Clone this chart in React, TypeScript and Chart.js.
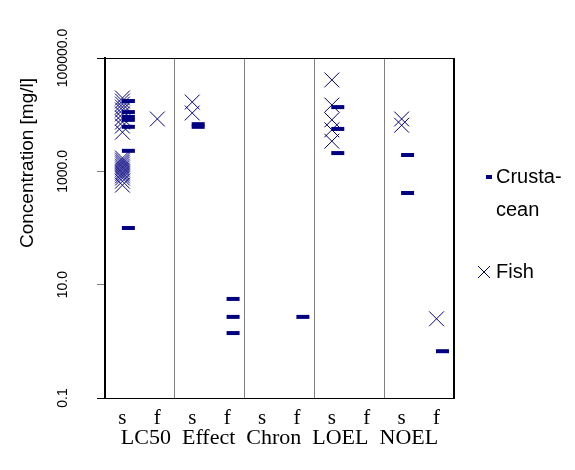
import React, { useEffect, useRef } from "react";
import { Chart, registerables } from "chart.js";

Chart.register(...registerables);

// ---- categories / labels ----
const groups = ["LC50", "Effect", "Chron", "LOEL", "NOEL"];
const subLabels = ["s", "f"];
const yTickValues = [0.1, 10, 1000, 100000];
const yTickLabels = ["0.1", "10.0", "1000.0", "100000.0"];
const yTitle = "Concentration [mg/l]";
const seriesNames = ["Crusta-\ncean", "Fish"];

// ---- Fish values (mg/l) per group, s / f ----
const fishLC50_s = [19700, 17400, 15400, 13600, 12100, 10300, 8700, 7400, 6300, 4900,
  1720, 1580, 1460, 1350, 1240, 1150, 1060, 970, 900, 830, 760, 670, 570];
const fishLC50_f = [8400];
const fishEffect_s = [16700, 10700];
const fishEffect_f: number[] = [];
const fishChron_s: number[] = [];
const fishChron_f: number[] = [];
const fishLOEL_s = [41000, 14800, 8100, 5400, 3400];
const fishLOEL_f: number[] = [];
const fishNOEL_s = [8400, 6500];
const fishNOEL_f = [2.5];

// ---- Crustacean values (mg/l) per group, s / f ----
const crustLC50_s = [17400, 11100, 9100, 8100, 6100, 2300, 100];
const crustLC50_f: number[] = [];
const crustEffect_s = [6800, 6100];
const crustEffect_f = [5.6, 2.7, 1.4];
const crustChron_s: number[] = [];
const crustChron_f = [2.7];
const crustLOEL_s = [13600, 5600, 2100];
const crustLOEL_f: number[] = [];
const crustNOEL_s = [1940, 415];
const crustNOEL_f = [0.67];

const fishCols = [
  [fishLC50_s, fishLC50_f],
  [fishEffect_s, fishEffect_f],
  [fishChron_s, fishChron_f],
  [fishLOEL_s, fishLOEL_f],
  [fishNOEL_s, fishNOEL_f],
];
const crustCols = [
  [crustLC50_s, crustLC50_f],
  [crustEffect_s, crustEffect_f],
  [crustChron_s, crustChron_f],
  [crustLOEL_s, crustLOEL_f],
  [crustNOEL_s, crustNOEL_f],
];

const NAVY = "#000080";
const SANS = "'Liberation Sans', Arial, sans-serif";
const SERIF = "'Liberation Serif', 'Times New Roman', serif";

function toPoints(cols: number[][][], shift: number) {
  return cols.flatMap((pair, gi) =>
    pair.flatMap((vals, si) => vals.map((v) => ({ x: gi * 2 + si + 0.5 + shift, y: v })))
  );
}

const xTickVals: number[] = [];
for (let g = 0; g < groups.length; g++) {
  xTickVals.push(g * 2, g * 2 + 0.5, g * 2 + 1.5);
}
xTickVals.push(groups.length * 2);

const decorPlugin = {
  id: "decor",
  afterDraw(chart: any) {
    const ctx = chart.ctx;
    const ys = chart.scales.y;
    ctx.save();
    // y tick labels (rotated)
    ctx.fillStyle = "#000";
    ctx.font = `14px ${SANS}`;
    ctx.textAlign = "center";
    ctx.textBaseline = "middle";
    yTickValues.forEach((v, i) => {
      const py = ys.getPixelForValue(v);
      ctx.save();
      ctx.translate(63, py);
      ctx.rotate(-Math.PI / 2);
      ctx.fillText(yTickLabels[i], 0, 0);
      ctx.restore();
    });
    // y title
    ctx.save();
    ctx.font = `19px ${SANS}`;
    ctx.translate(28, 163);
    ctx.rotate(-Math.PI / 2);
    ctx.fillText(yTitle, 0, 0);
    ctx.restore();

    // legend
    const lx = chart.chartArea.right;
    ctx.font = `20px ${SANS}`;
    ctx.textAlign = "left";
    ctx.textBaseline = "middle";
    // crustacean
    ctx.fillStyle = NAVY;
    ctx.fillRect(lx + 32, 175, 6, 4);
    ctx.fillStyle = "#000";
    const lines = seriesNames[0].split("\n");
    lines.forEach((t, i) => ctx.fillText(t, lx + 42, 177 + i * 33));
    // fish
    ctx.strokeStyle = NAVY;
    ctx.lineWidth = 1;
    ctx.beginPath();
    const cx = lx + 30, cy = 272, r = 6;
    ctx.moveTo(cx - r, cy - r); ctx.lineTo(cx + r, cy + r);
    ctx.moveTo(cx + r, cy - r); ctx.lineTo(cx - r, cy + r);
    ctx.stroke();
    ctx.fillText(seriesNames[1], lx + 42, 272);
    ctx.restore();
  },
};

export default function App() {
  const ref = useRef<HTMLCanvasElement>(null);
  useEffect(() => {
    const chart = new Chart(ref.current!, {
      type: "scatter",
      data: {
        datasets: [
          {
            label: "Crustacean",
            data: toPoints(crustCols, 0.17),
            pointStyle: "line",
            pointRadius: 6.5,
            pointHoverRadius: 6.5,
            pointBorderWidth: 4,
            borderColor: NAVY,
            backgroundColor: NAVY,
          },
          {
            label: "Fish",
            data: toPoints(fishCols, 0),
            pointStyle: "crossRot",
            pointRadius: 10.5,
            pointHoverRadius: 10.5,
            pointBorderWidth: 1,
            borderColor: NAVY,
            backgroundColor: NAVY,
          },
        ],
      },
      options: {
        responsive: false,
        animation: false,
        devicePixelRatio: 1,
        layout: { padding: { top: 58, right: 121, left: 0, bottom: 0 } },
        plugins: { legend: { display: false }, tooltip: { enabled: false } },
        scales: {
          x: {
            type: "linear",
            min: 0,
            max: groups.length * 2,
            afterBuildTicks: (s: any) => {
              s.ticks = xTickVals.map((v) => ({ value: v }));
            },
            afterFit: (s: any) => {
              s.height = 72;
            },
            ticks: {
              autoSkip: false,
              maxRotation: 0,
              padding: 8,
              color: "#000",
              font: { family: SERIF, size: 21 },
              callback: (v: any) => {
                const r = Number(v) % 2;
                if (r === 0.5) return subLabels[0];
                if (r === 1.5) return subLabels[1];
                return "";
              },
            },
            grid: {
              drawTicks: false,
              color: (c: any) => {
                const v = c.tick ? c.tick.value : 0;
                if (v === groups.length * 2) return "#000";
                if (v > 0 && v % 2 === 0) return "#808080";
                return "rgba(0,0,0,0)";
              },
              lineWidth: (c: any) => {
                const v = c.tick ? c.tick.value : 0;
                return v === groups.length * 2 ? 2 : 1;
              },
            },
            border: { display: true, color: "#000", width: 1 },
            title: {
              display: true,
              text: groups.join("  "),
              color: "#000",
              font: { family: SERIF, size: 22 },
              padding: { top: 0, bottom: 19 },
            },
          },
          y: {
            type: "logarithmic",
            min: yTickValues[0],
            max: yTickValues[yTickValues.length - 1],
            afterBuildTicks: (s: any) => {
              s.ticks = yTickValues.map((v) => ({ value: v }));
            },
            afterFit: (s: any) => {
              s.width = 105;
            },
            ticks: { display: false },
            grid: {
              drawTicks: true,
              tickLength: 8,
              color: (c: any) =>
                c.tick && c.tick.value === yTickValues[yTickValues.length - 1]
                  ? "#000"
                  : "rgba(0,0,0,0)",
              tickColor: (c: any) => {
                const v = c.tick ? c.tick.value : 0;
                return v === yTickValues[0] || v === yTickValues[yTickValues.length - 1]
                  ? "#000"
                  : "#808080";
              },
              lineWidth: 1,
            },
            border: { display: true, color: "#000", width: 2 },
          },
        },
      } as any,
      plugins: [decorPlugin],
    });
    return () => chart.destroy();
  }, []);
  return (
    <div style={{ position: "absolute", left: 0, top: 0, width: 575, height: 470, background: "#fff" }}>
      <canvas ref={ref} width={575} height={470} style={{ display: "block" }} />
    </div>
  );
}
